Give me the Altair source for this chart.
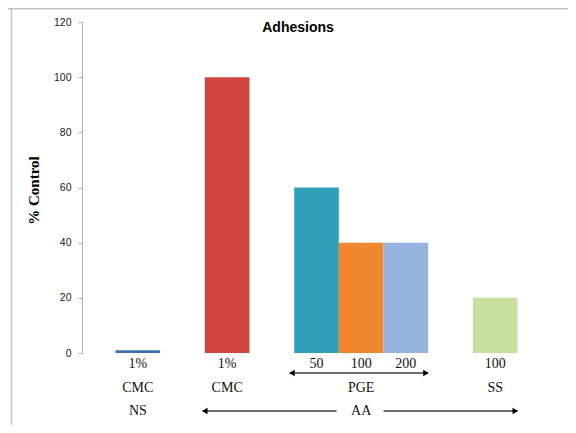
import altair as alt
import pandas as pd

# ---- data ----
groups = ["NS 1% CMC", "AA 1% CMC", "AA PGE 50", "AA PGE 100", "AA PGE 200", "AA SS 100"]
values = [1, 100, 60, 40, 40, 20]
positions = [0, 2, 4, 5, 6, 8]
colors = ["#3d6fb2", "#d0463f", "#31a0bb", "#f0862e", "#97b3e0", "#c7e09e"]

row1_text = ["1%", "1%", "50", "100", "200", "100"]
row1_pos = [0, 2, 4, 5, 6, 8]
row2_text = ["CMC", "CMC", "PGE", "SS"]
row2_pos = [0, 2, 5, 8]
row3_text = ["NS", "AA"]
row3_pos = [0, 5]

# arrows: (start, end, y-row)
arrow_start = [3.4, 1.45, 5.5]
arrow_end = [6.5, 4.45, 8.5]
arrow_row = ["pge", "aa", "aa"]
head_pos = [3.45, 6.45, 1.5, 8.45]
head_shape = ["triangle-left", "triangle-right", "triangle-left", "triangle-right"]
head_row = ["pge", "pge", "aa", "aa"]

W, H = 469, 331
row_y = {"r1": H + 11, "r2": H + 35, "r3": H + 58, "pge": H + 20, "aa": H + 58}

bars = pd.DataFrame({"group": groups, "value": values, "pos": positions, "color": colors})
bars["start"] = bars["pos"] - 0.5
bars["end"] = bars["pos"] + 0.5

xscale = alt.Scale(domain=[-1.25, 9.25], nice=False, zero=False, padding=0)

bar_layer = alt.Chart(bars).mark_bar(opacity=1, orient="vertical").encode(
    x=alt.X("start:Q", scale=xscale, title=None,
            axis=alt.Axis(labels=False, ticks=False, grid=False, domainColor="#b0b0b0", domainWidth=1.3)),
    x2="end:Q",
    y=alt.Y("value:Q", scale=alt.Scale(domain=[0, 120], nice=False, padding=0),
            title="% Control",
            axis=alt.Axis(values=[0, 20, 40, 60, 80, 100, 120], grid=False, domainColor="#b0b0b0",
                          tickColor="#b0b0b0", tickSize=4, labelPadding=7,
                          labelFont="Liberation Sans", labelFontSize=10.5, labelColor="#222222",
                          titleFont="Liberation Serif", titleFontSize=15, titleFontWeight="bold",
                          titleColor="#000000", titleX=-49, titleY=168, titleAngle=-90,
                          titleBaseline="middle", titleAlign="center")),
    y2=alt.Y2(datum=0),
    color=alt.Color("color:N", scale=None),
)

def text_layer(texts, pos, ykey):
    df = pd.DataFrame({"t": texts, "pos": pos})
    return alt.Chart(df).mark_text(font="Liberation Serif", fontSize=14, color="#111111",
                                   baseline="middle").encode(
        x=alt.X("pos:Q", scale=xscale, axis=None),
        y=alt.value(row_y[ykey]),
        text="t:N",
    )

arr = pd.DataFrame({"s": arrow_start, "e": arrow_end, "row": arrow_row})
arrow_layers = []
for r in ["pge", "aa"]:
    sub = arr[arr["row"] == r]
    arrow_layers.append(alt.Chart(sub).mark_rule(color="#404040", strokeWidth=1.6).encode(
        x=alt.X("s:Q", scale=xscale, axis=None), x2="e:Q", y=alt.value(row_y[r])))

heads = pd.DataFrame({"pos": head_pos, "shape": head_shape, "row": head_row})
head_layers = []
for r in ["pge", "aa"]:
    for shp in ["triangle-left", "triangle-right"]:
        sub = heads[(heads["row"] == r) & (heads["shape"] == shp)]
        head_layers.append(alt.Chart(sub).mark_point(shape=shp, filled=True, color="#000000",
                                                     size=40, opacity=1).encode(
            x=alt.X("pos:Q", scale=xscale, axis=None), y=alt.value(row_y[r])))

title_layer = alt.Chart(pd.DataFrame({"t": ["Adhesions"]})).mark_text(
    font="Liberation Sans", fontSize=14, fontWeight="bold", color="#000000", baseline="middle"
).encode(x=alt.value(216), y=alt.value(6), text="t:N")

frame_top = alt.Chart(pd.DataFrame({"a": [0]})).mark_rule(color="#c4c4c4", strokeWidth=1.5).encode(
    x=alt.value(-74), x2=alt.value(W + 17), y=alt.value(-13.3))
frame_left = alt.Chart(pd.DataFrame({"a": [0]})).mark_rule(color="#c4c4c4", strokeWidth=1.5).encode(
    x=alt.value(-70.5), y=alt.value(-14), y2=alt.value(H + 72))

chart = alt.layer(
    bar_layer,
    text_layer(row1_text, row1_pos, "r1"),
    text_layer(row2_text, row2_pos, "r2"),
    text_layer(row3_text, row3_pos, "r3"),
    *arrow_layers, *head_layers, title_layer, frame_top, frame_left,
).properties(
    width=W, height=H,
    autosize=alt.AutoSizeParams(type="none"),
    padding={"left": 74, "top": 14, "right": 17, "bottom": 72},
).configure_view(stroke=None)

chart.save("out.html", embed_options={"renderer": "svg", "actions": False})
